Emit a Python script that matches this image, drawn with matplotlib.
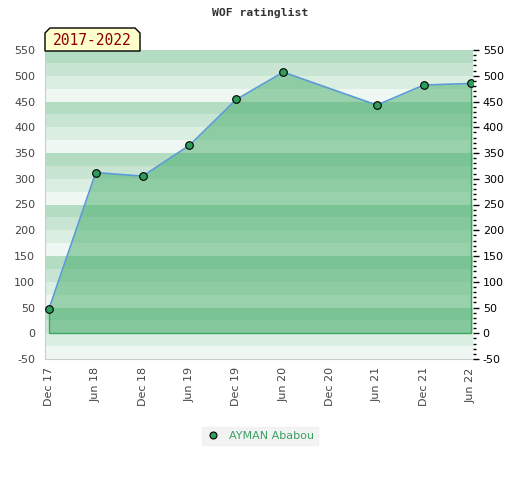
import matplotlib
matplotlib.use('Agg')
import matplotlib.pyplot as plt
import matplotlib.ticker as ticker
from matplotlib.patches import Polygon
from matplotlib.lines import Line2D

plt.rcParams['font.family'] = ['DejaVu Sans']
plt.rcParams['axes.unicode_minus'] = False

# rating history
dates = ['2017-12', '2018-06', '2018-12', '2019-06', '2019-12', '2020-06', '2021-06', '2021-12', '2022-06']
ratings = [47, 312, 305, 365, 454, 507, 443, 482, 485]
tick_labels = ['Dec 17', 'Jun 18', 'Dec 18', 'Jun 19', 'Dec 19', 'Jun 20', 'Dec 20', 'Jun 21', 'Dec 21', 'Jun 22']
player = 'AYMAN Ababou'
period = '2017-2022'


def month_index(s):
    y, m = s.split('-')
    return (int(y) - 2017) * 12 + int(m) - 12


x = [month_index(d) for d in dates]

fig = plt.figure(figsize=(5.2, 4.8), dpi=100)
ax = fig.add_axes([45 / 520, 1 - 359 / 480, 428 / 520, 309 / 480])

# striped background, period 100 with 4 bands of 25
band_cols = ['#b3dcc2', '#c8e5d3', '#dbeee2', '#eef7f1']
top = 550
i = 0
while top > -50:
    ax.axhspan(top - 25, top, color=band_cols[i % 4], lw=0, zorder=0)
    top -= 25
    i += 1

ax.fill_between(x, ratings, 0, color='#43ac68', alpha=0.5, lw=0, zorder=1)
ax.plot([x[0], x[0], x[-1], x[-1]], [ratings[0], 0, 0, ratings[-1]], color='#3aa860', lw=1, zorder=2)
ax.plot(x, ratings, color='#5b9bd5', lw=1.2, zorder=3)
ax.plot(x, ratings, 'o', ms=5.5, mfc='#2e9e5a', mec='black', mew=0.8, zorder=4)

ax.set_xlim(-0.5, 54.3)
ax.set_ylim(-50, 550)
ax.set_xticks(range(0, 55, 6))
ax.set_xticklabels(tick_labels, rotation=90, fontsize=8, color='#444444')
ax.set_yticks(range(-50, 551, 50))
ax.tick_params(axis='y', labelsize=8, labelcolor='#444444', length=0, pad=7)
ax.tick_params(axis='x', length=0, pad=6)

for s in ['top', 'right']:
    ax.spines[s].set_visible(False)
for s in ['left', 'bottom']:
    ax.spines[s].set_color('#cccccc')

ax2 = ax.twinx()
ax2.set_ylim(-50, 550)
ax2.set_yticks(range(-50, 551, 50))
ax2.yaxis.set_minor_locator(ticker.MultipleLocator(10))
ax2.tick_params(axis='y', which='major', labelsize=8, length=4, width=1, pad=3)
ax2.tick_params(axis='y', which='minor', length=2.5, width=1)
for s in ['top', 'left', 'bottom', 'right']:
    ax2.spines[s].set_visible(False)

fig.text(0.5, 1 - 13 / 480, 'WOF ratinglist', ha='center', va='center',
         family='DejaVu Sans Mono', fontweight='bold', fontsize=8.2, color='#333333')

# period tag with clipped top corners
l, r, b, t = 45 / 520, 140 / 520, 1 - 51 / 480, 1 - 28 / 480
cx, cy = 5 / 520, 5 / 480
tag = Polygon([(l, b), (l, t - cy), (l + cx, t), (r - cx, t), (r, t - cy), (r, b)],
              closed=True, transform=fig.transFigure, facecolor='#ffffcc',
              edgecolor='black', lw=1, zorder=5)
fig.patches.append(tag)
fig.text((l + r) / 2, (b + t) / 2 - 0.002, period, ha='center', va='center',
         family='DejaVu Sans Mono', fontsize=10.5, color='#8b0000', zorder=6)

handle = Line2D([], [], ls='none', marker='o', ms=5, mfc='#2e9e5a', mec='black', mew=0.8)
leg = fig.legend([handle], [player], loc='center', bbox_to_anchor=(0.5, 1 - 436 / 480),
                 frameon=True, fancybox=False, fontsize=8, handlelength=1.2,
                 handletextpad=0.8, borderpad=0.4)
leg.get_frame().set_facecolor('#f0f0f0')
leg.get_frame().set_edgecolor('#f0f0f0')
for txt in leg.get_texts():
    txt.set_color('#3aa060')

fig.savefig('out.png', dpi=100)
